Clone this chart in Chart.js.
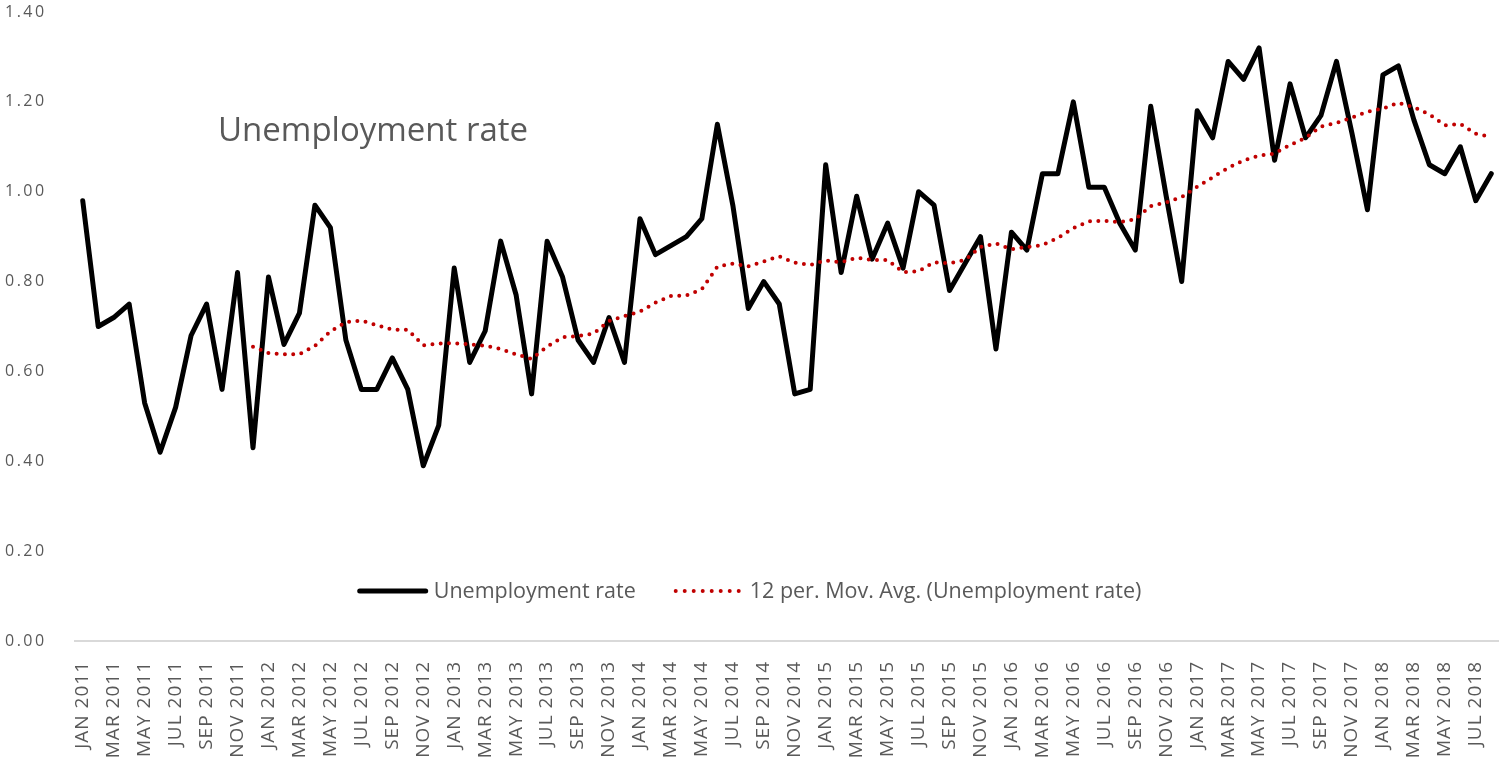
<!DOCTYPE html>
<html>
<head>
<meta charset="utf-8">
<script src="https://cdn.jsdelivr.net/npm/chart.js@4.4.1/dist/chart.umd.min.js"></script>
<style>
html,body{margin:0;padding:0;background:#fff;overflow:hidden}
#wrap{width:1499px;height:765px;position:relative}
</style>
</head>
<body>
<div id="wrap"><canvas id="c"></canvas></div>
<script>
const months = [
  "JAN 2011","FEB 2011","MAR 2011","APR 2011","MAY 2011","JUN 2011","JUL 2011","AUG 2011","SEP 2011","OCT 2011","NOV 2011","DEC 2011",
  "JAN 2012","FEB 2012","MAR 2012","APR 2012","MAY 2012","JUN 2012","JUL 2012","AUG 2012","SEP 2012","OCT 2012","NOV 2012","DEC 2012",
  "JAN 2013","FEB 2013","MAR 2013","APR 2013","MAY 2013","JUN 2013","JUL 2013","AUG 2013","SEP 2013","OCT 2013","NOV 2013","DEC 2013",
  "JAN 2014","FEB 2014","MAR 2014","APR 2014","MAY 2014","JUN 2014","JUL 2014","AUG 2014","SEP 2014","OCT 2014","NOV 2014","DEC 2014",
  "JAN 2015","FEB 2015","MAR 2015","APR 2015","MAY 2015","JUN 2015","JUL 2015","AUG 2015","SEP 2015","OCT 2015","NOV 2015","DEC 2015",
  "JAN 2016","FEB 2016","MAR 2016","APR 2016","MAY 2016","JUN 2016","JUL 2016","AUG 2016","SEP 2016","OCT 2016","NOV 2016","DEC 2016",
  "JAN 2017","FEB 2017","MAR 2017","APR 2017","MAY 2017","JUN 2017","JUL 2017","AUG 2017","SEP 2017","OCT 2017","NOV 2017","DEC 2017",
  "JAN 2018","FEB 2018","MAR 2018","APR 2018","MAY 2018","JUN 2018","JUL 2018","AUG 2018"
];

const unemploymentRate = [
  0.98,0.70,0.72,0.75,0.53,0.42,0.52,0.68,0.75,0.56,0.82,0.43,
  0.81,0.66,0.73,0.97,0.92,0.67,0.56,0.56,0.63,0.56,0.39,0.48,
  0.83,0.62,0.69,0.89,0.77,0.55,0.89,0.81,0.67,0.62,0.72,0.62,
  0.94,0.86,0.88,0.90,0.94,1.15,0.97,0.74,0.80,0.75,0.55,0.56,
  1.06,0.82,0.99,0.85,0.93,0.83,1.00,0.97,0.78,0.84,0.90,0.65,
  0.91,0.87,1.04,1.04,1.20,1.01,1.01,0.93,0.87,1.19,0.99,0.80,
  1.18,1.12,1.29,1.25,1.32,1.07,1.24,1.12,1.17,1.29,1.13,0.96,
  1.26,1.28,1.16,1.06,1.04,1.10,0.98,1.04
];

const movingAverage12 = [
  null,null,null,null,null,null,null,null,null,null,null,0.655,
  0.641,0.638,0.638,0.657,0.689,0.710,0.713,0.703,0.693,0.693,0.658,0.662,
  0.663,0.660,0.657,0.650,0.638,0.628,0.655,0.676,0.679,0.684,0.712,0.723,
  0.733,0.753,0.768,0.769,0.783,0.833,0.840,0.834,0.845,0.856,0.842,0.837,
  0.847,0.843,0.853,0.848,0.848,0.821,0.823,0.843,0.841,0.848,0.877,0.885,
  0.872,0.877,0.881,0.897,0.919,0.934,0.935,0.932,0.939,0.968,0.976,0.988,
  1.011,1.032,1.053,1.070,1.080,1.085,1.104,1.120,1.145,1.153,1.165,1.178,
  1.185,1.198,1.188,1.172,1.148,1.151,1.129,1.122
];

const chartTitle = "Unemployment rate";
const seriesLabels = ["Unemployment rate", "12 per. Mov. Avg. (Unemployment rate)"];

const TEXT_COLOR = '#595959';
const FONT = '"Open Sans", "Noto Sans", sans-serif';

const spacingPlugin = {
  id: 'spacing',
  afterLayout(chart) {
    [['x', '1px'], ['y', '2.5px']].forEach(([id, sp]) => {
      const s = chart.scales[id];
      if (s && !s._spWrapped) {
        const orig = s.drawLabels;
        s.drawLabels = function(area) {
          const ctx = this.ctx;
          const prev = ctx.letterSpacing;
          ctx.letterSpacing = sp;
          orig.call(this, area);
          ctx.letterSpacing = prev || '0px';
        };
        s._spWrapped = true;
      }
    });
  }
};

const overlayPlugin = {
  id: 'overlay',
  afterDraw(chart) {
    const ctx = chart.ctx;
    const area = chart.chartArea;
    const ds = chart.data.datasets;
    ctx.save();
    ctx.letterSpacing = '0px';
    ctx.fillStyle = TEXT_COLOR;
    ctx.textAlign = 'left';
    ctx.textBaseline = 'alphabetic';
    ctx.font = '33px ' + FONT;
    ctx.fillText(chartTitle, area.left + 143, area.top + 129);

    // legend
    ctx.font = '21.5px ' + FONT;
    const sampleW1 = 70, sampleW2 = 63, gapText1 = 6, gapText2 = 11, gapItem = 40;
    const w1 = ctx.measureText(ds[0].label).width;
    const w2 = ctx.measureText(ds[1].label).width;
    const total = sampleW1 + gapText1 + w1 + gapItem + sampleW2 + gapText2 + w2;
    let x = (chart.width - total) / 2;
    const ly = area.bottom - 50;

    ctx.strokeStyle = ds[0].borderColor;
    ctx.lineWidth = 5;
    ctx.lineCap = 'round';
    ctx.setLineDash([]);
    ctx.beginPath();
    ctx.moveTo(x + 2, ly);
    ctx.lineTo(x + sampleW1 - 2, ly);
    ctx.stroke();
    x += sampleW1 + gapText1;
    ctx.fillText(ds[0].label, x, ly + 7);
    x += w1 + gapItem;

    ctx.strokeStyle = ds[1].borderColor;
    ctx.lineWidth = 4;
    ctx.setLineDash([0, 9]);
    ctx.beginPath();
    ctx.moveTo(x, ly);
    ctx.lineTo(x + sampleW2 + 0.5, ly);
    ctx.stroke();
    ctx.setLineDash([]);
    x += sampleW2 + gapText2;
    ctx.fillText(ds[1].label, x, ly + 7);
    ctx.restore();
  }
};

new Chart(document.getElementById('c'), {
  type: 'line',
  data: {
    labels: months,
    datasets: [
      {
        label: seriesLabels[0],
        data: unemploymentRate,
        borderColor: '#000000',
        backgroundColor: '#000000',
        borderWidth: 5,
        pointRadius: 0,
        pointHoverRadius: 0,
        tension: 0,
        borderJoinStyle: 'round',
        borderCapStyle: 'round',
        fill: false,
        order: 2
      },
      {
        label: seriesLabels[1],
        data: movingAverage12,
        borderColor: '#C00000',
        backgroundColor: '#C00000',
        borderWidth: 4,
        borderDash: [0, 8.3],
        borderCapStyle: 'round',
        pointRadius: 0,
        pointHoverRadius: 0,
        tension: 0,
        fill: false,
        spanGaps: false,
        order: 1
      }
    ]
  },
  options: {
    responsive: true,
    maintainAspectRatio: false,
    animation: false,
    devicePixelRatio: 1,
    layout: { padding: { left: 5, top: 12, right: 0, bottom: 0 } },
    plugins: {
      legend: { display: false },
      tooltip: { enabled: false },
      title: { display: false }
    },
    scales: {
      x: {
        type: 'category',
        offset: true,
        grid: { display: false, drawTicks: false },
        border: { display: true, color: '#d9d9d9', width: 2 },
        ticks: {
          autoSkip: false,
          minRotation: 90,
          maxRotation: 90,
          padding: 20,
          color: TEXT_COLOR,
          font: { family: FONT, size: 19 },
          callback: function(value, index) { return index % 2 === 0 ? this.getLabelForValue(value) : ''; }
        },
        afterFit(scale) { scale.height = 124; scale.paddingLeft = 0; scale.paddingRight = 0; }
      },
      y: {
        min: 0,
        max: 1.4,
        grid: { display: false, drawTicks: false },
        border: { display: false },
        ticks: {
          stepSize: 0.2,
          crossAlign: 'far',
          padding: 0,
          color: TEXT_COLOR,
          font: { family: FONT, size: 16 },
          callback: (v) => Number(v).toFixed(2)
        },
        afterFit(scale) { scale.width = 70; scale.paddingTop = 0; scale.paddingBottom = 0; }
      }
    }
  },
  plugins: [spacingPlugin, overlayPlugin]
});
</script>
</body>
</html>
